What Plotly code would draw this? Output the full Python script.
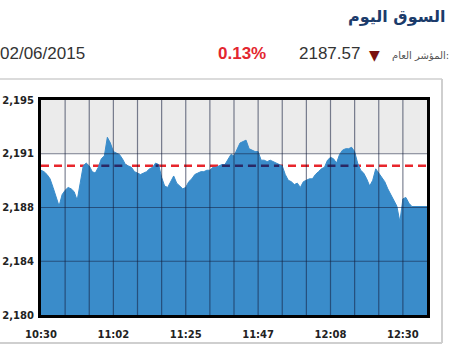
import plotly.graph_objects as go

# ---------------- data ----------------
index_values = [
    2190.1, 2190.0, 2189.8, 2189.5, 2188.9, 2188.2, 2187.6, 2188.4, 2188.7, 2188.9,
    2188.8, 2188.6, 2188.0, 2189.2, 2190.4, 2190.6, 2190.4, 2190.0, 2189.9, 2190.3,
    2190.9, 2191.1, 2192.4, 2192.0, 2191.4, 2191.3, 2191.2, 2190.9, 2190.5, 2190.4,
    2190.3, 2190.0, 2189.9, 2189.8, 2189.9, 2190.0, 2190.2, 2190.3, 2190.6, 2190.5,
    2189.6, 2189.0, 2188.9, 2189.3, 2189.7, 2189.2, 2189.0, 2188.8, 2188.9, 2189.3,
    2189.5, 2189.8, 2189.9, 2190.0, 2190.0, 2190.1, 2190.1, 2190.3, 2190.3, 2190.4,
    2190.5, 2190.5, 2190.9, 2191.2, 2191.1, 2191.5, 2192.0, 2192.1, 2192.2, 2191.6,
    2191.5, 2191.4, 2191.4, 2190.8, 2190.8, 2190.7, 2190.8, 2190.7, 2190.6, 2190.5,
    2190.4, 2189.8, 2189.4, 2189.3, 2189.1, 2189.2, 2188.9, 2189.3, 2189.4, 2189.5,
    2189.5, 2189.8, 2190.0, 2190.2, 2190.3, 2190.8, 2191.0, 2190.9, 2190.6, 2191.2,
    2191.5, 2191.6, 2191.6, 2191.7, 2191.4, 2190.6, 2190.1, 2189.9, 2189.5, 2189.0,
    2189.4, 2190.2, 2189.9, 2189.6, 2189.3, 2188.8, 2188.4, 2188.0, 2187.6, 2186.5,
    2188.1, 2188.2, 2187.8, 2187.57, 2187.57, 2187.57, 2187.57, 2187.57, 2187.57,
]
prev_close = 2190.42

x_tick_labels = ["10:30", "11:02", "11:25", "11:47", "12:08", "12:30"]
x_tick_pos = [0, 24, 48, 72, 96, 120]
y_tick_vals = [2180, 2183.75, 2187.5, 2191.25, 2195]
y_tick_labels = ["2,180", "2,184", "2,188", "2,191", "2,195"]

title_text = "السوق اليوم"
index_label = "المؤشر العام:"
last_value_text = "2187.57"
change_text = "0.13%"
date_text = "02/06/2015"

# ---------------- layout helpers ----------------
W, H = 450, 350
L, R, T, B = 41, 23, 100, 35
PW, PH = W - L - R, H - T - B
X_MAX = 128


def px_x(p):
    return (p - L) / PW


def px_y(p):
    return (H - B - p) / PH


xs = list(range(len(index_values)))
BLUE = "rgb(58,140,202)"

fig = go.Figure()

# area
fig.add_trace(go.Scatter(
    x=xs, y=index_values, mode="lines", fill="tozeroy",
    fillcolor=BLUE, line=dict(color=BLUE, width=1),
    hoverinfo="skip", showlegend=False,
))

# dark dashes where the previous-close line passes over the area
over = [prev_close if v >= prev_close else None for v in index_values]
fig.add_trace(go.Scatter(
    x=xs, y=over, mode="lines", connectgaps=False,
    line=dict(color="rgb(42,40,100)", width=2.5, dash="8px,5px"),
    hoverinfo="skip", showlegend=False,
))

shapes = []
# grey band on top
shapes.append(dict(type="rect", xref="x", yref="y", x0=0, x1=X_MAX,
                   y0=y_tick_vals[3], y1=y_tick_vals[4],
                   fillcolor="#ebebeb", line=dict(width=0), layer="below"))
# red dashed previous-close line (under the area)
shapes.append(dict(type="line", xref="x", yref="y", x0=0, x1=X_MAX,
                   y0=prev_close, y1=prev_close, layer="below",
                   line=dict(color="#e8262c", width=2.5, dash="8px,5px")))
grid_col = "rgba(20,30,60,0.55)"
for gx in range(8, X_MAX, 8):
    shapes.append(dict(type="line", xref="x", yref="y", x0=gx, x1=gx,
                       y0=y_tick_vals[0], y1=y_tick_vals[-1],
                       line=dict(color=grid_col, width=1.2), layer="above"))
for gy in y_tick_vals[1:-1]:
    shapes.append(dict(type="line", xref="x", yref="y", x0=0, x1=X_MAX,
                       y0=gy, y1=gy,
                       line=dict(color=grid_col, width=1.2), layer="above"))
# outer light frame (right edge, bottom edge and header separator)
frame_col = "#cfcfcf"
shapes.append(dict(type="line", xref="paper", yref="paper",
                   x0=px_x(0), x1=px_x(442), y0=px_y(79), y1=px_y(79),
                   line=dict(color=frame_col, width=1.5), layer="above"))
shapes.append(dict(type="line", xref="paper", yref="paper",
                   x0=px_x(0), x1=px_x(442), y0=px_y(343), y1=px_y(343),
                   line=dict(color=frame_col, width=2), layer="above"))
shapes.append(dict(type="line", xref="paper", yref="paper",
                   x0=px_x(442), x1=px_x(442), y0=px_y(343), y1=px_y(79),
                   line=dict(color=frame_col, width=2), layer="above"))

annotations = [
    dict(text="<b>" + title_text + "</b>", x=px_x(447), y=px_y(17),
         xanchor="right", yanchor="middle",
         font=dict(family="DejaVu Sans", size=16, color="#1b3b6b")),
    dict(text=date_text, x=px_x(-2), y=px_y(54), xanchor="left", yanchor="middle",
         font=dict(family="Liberation Sans", size=17, color="#333333")),
    dict(text="<b>" + change_text + "</b>", x=px_x(242), y=px_y(54),
         xanchor="center", yanchor="middle",
         font=dict(family="Liberation Sans", size=17, color="#e3262f")),
    dict(text=last_value_text, x=px_x(329), y=px_y(54),
         xanchor="center", yanchor="middle",
         font=dict(family="Liberation Sans", size=17, color="#333333")),
    dict(text="▼", x=px_x(374), y=px_y(55), xanchor="center", yanchor="middle",
         font=dict(family="DejaVu Sans", size=14, color="#7a1010")),
    dict(text=index_label, x=px_x(451), y=px_y(56), xanchor="right", yanchor="middle",
         font=dict(family="DejaVu Sans", size=10, color="#555555")),
]
for a in annotations:
    a.update(xref="paper", yref="paper", showarrow=False)

fig.update_layout(
    width=W, height=H,
    margin=dict(l=L, r=R, t=T, b=B, pad=0, autoexpand=False),
    paper_bgcolor="white", plot_bgcolor="white",
    shapes=shapes, annotations=annotations,
    showlegend=False,
    xaxis=dict(range=[0, X_MAX], tickvals=x_tick_pos, ticktext=x_tick_labels,
               showgrid=False, zeroline=False, showline=True, linecolor="black",
               linewidth=3, mirror=True, ticks="", fixedrange=True,
               ticklabelstandoff=8, automargin=False,
               tickfont=dict(family="DejaVu Sans", size=10, color="#222222", weight="bold")),
    yaxis=dict(range=[2180, 2195], tickvals=y_tick_vals, ticktext=y_tick_labels,
               showgrid=False, zeroline=False, showline=True, linecolor="black",
               linewidth=3, mirror=True, ticks="", fixedrange=True,
               ticklabelstandoff=2, automargin=False,
               tickfont=dict(family="DejaVu Sans", size=10, color="#222222", weight="bold")),
)

fig.write_html("out.html", config={"displayModeBar": False})
